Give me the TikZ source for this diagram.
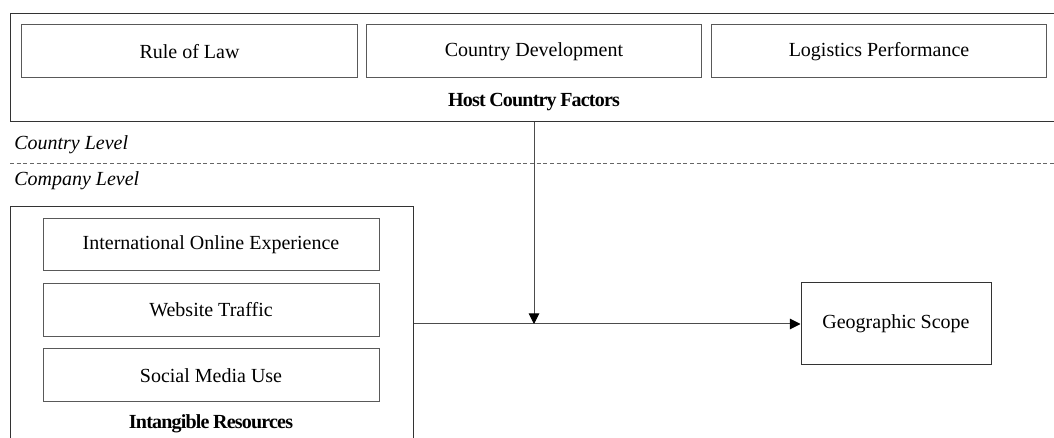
\documentclass[tikz,border=0pt]{standalone}
\usepackage{fontspec}
\setmainfont{Liberation Serif}
\newfontfamily\tightserif[LetterSpace=-4,WordSpace=0.85]{Liberation Serif}
\usetikzlibrary{arrows.meta}
\begin{document}
\begin{tikzpicture}[x=0.75pt,y=-0.75pt,
  every node/.style={font=\fontsize{15}{18}\selectfont, text=black},
  frame/.style={draw=black!80, line width=0.75pt, inner sep=0pt},
  factor/.style={draw=black!65, line width=0.75pt, minimum width=251.5pt, minimum height=39.75pt, inner sep=0pt},
  heading/.style={font=\fontsize{15}{18}\selectfont\tightserif\bfseries},
  levellabel/.style={font=\fontsize{15}{18}\selectfont\itshape, anchor=west, inner sep=0pt},
  link/.style={draw=black!70, line width=0.75pt, -{Triangle[length=8pt,width=8pt,color=black]}}]
\useasboundingbox (0,0) rectangle (1054,438);
\clip (0,0) rectangle (1054,438);

% host country block
\node[frame, anchor=north west, minimum width=787.5pt, minimum height=81pt] (host) at (10,13) {};
\node[factor] (law) at (189.5,51.5) {Rule of Law};
\node[factor] (dev) at (534,51.5) {Country Development};
\node[factor] (log) at (879,51.5) {Logistics Performance};
\node[heading] (hostlbl) at (534,102) {Host Country Factors};

% level separator
\node[levellabel] (ctry) at (14,145) {Country Level};
\draw[draw=black!60, line width=0.75pt, dash pattern=on 3pt off 2pt] (10,164) -- (1054,164);
\node[levellabel] (comp) at (14,181) {Company Level};

% intangible resources block
\node[frame, anchor=north west, minimum width=302.25pt, minimum height=179.25pt] (res) at (10,206) {};
\node[factor, minimum width=252pt, minimum height=39pt] (ioe) at (211,245) {International Online Experience};
\node[factor, minimum width=252pt] (web) at (211,310) {Website Traffic};
\node[factor, minimum width=252pt] (soc) at (211,375.5) {Social Media Use};
\node[heading] (reslbl) at (211,424) {Intangible Resources};

% outcome
\node[frame, minimum width=142.5pt, minimum height=61.5pt] (geo) at (896,324) {Geographic Scope};

% relations
\coordinate (join) at (534,324);
\draw[link] (res.east |- geo.west) -- (geo.west);
\draw[link] (join |- host.south) -- (join);
\end{tikzpicture}
\end{document}
